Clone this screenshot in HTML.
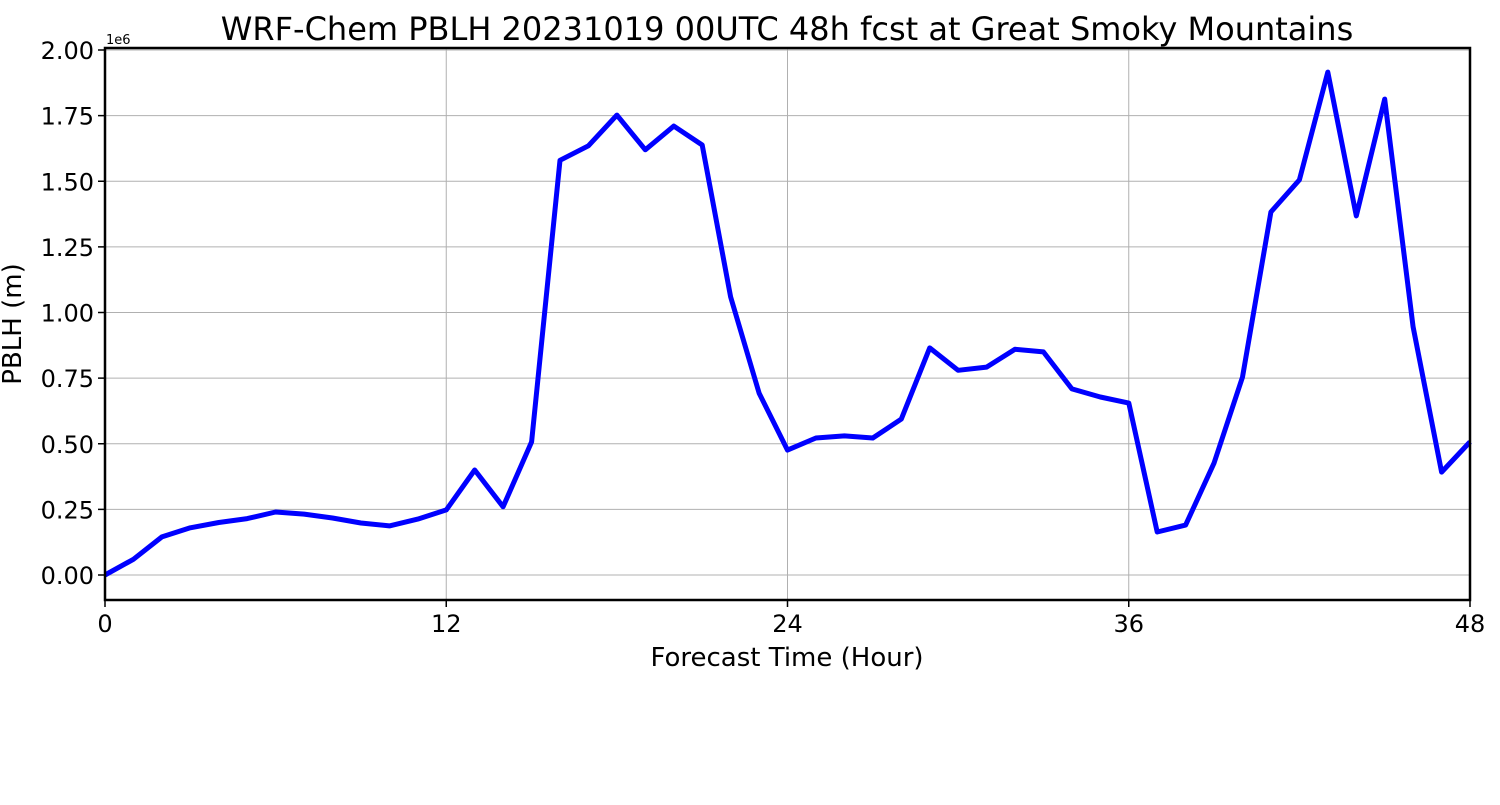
<!DOCTYPE html>
<html><head><meta charset="utf-8"><style>
body{margin:0;background:#fff;}
svg text{font-family:"DejaVu Sans","Liberation Sans",sans-serif;fill:#000;}
</style></head><body>
<svg id="chart" width="1500" height="800" xmlns="http://www.w3.org/2000/svg">
<rect width="1500" height="800" fill="#fff"/>
<text x="787" y="40" font-size="32" text-anchor="middle">WRF-Chem PBLH  20231019 00UTC 48h fcst at Great Smoky Mountains</text>
<g id="grid"></g>
<g id="ticks"></g>
<path id="line" fill="none" stroke="#0000ff" stroke-width="5" stroke-linejoin="round"/>
<rect x="105" y="48" width="1365" height="552" fill="none" stroke="#000" stroke-width="2.5"/>
<text x="106" y="44" font-size="13">1e6</text>
<text x="787" y="666" font-size="26" text-anchor="middle">Forecast Time (Hour)</text>
<text transform="translate(21,324) rotate(-90)" font-size="26" text-anchor="middle">PBLH  (m)</text>
</svg>
<script>
const hours = [0,1,2,3,4,5,6,7,8,9,10,11,12,13,14,15,16,17,18,19,20,21,22,23,24,25,26,27,28,29,30,31,32,33,34,35,36,37,38,39,40,41,42,43,44,45,46,47,48];
const pblh = [0,0.06,0.145,0.18,0.2,0.215,0.24,0.232,0.217,0.198,0.187,0.213,0.248,0.40,0.26,0.507,1.58,1.635,1.752,1.62,1.71,1.638,1.06,0.693,0.476,0.522,0.53,0.522,0.594,0.865,0.78,0.792,0.86,0.85,0.709,0.678,0.655,0.164,0.19,0.427,0.754,1.383,1.505,1.916,1.368,1.813,0.945,0.392,0.507];
const xTicks = [0,12,24,36,48];
const yTicks = [0,0.25,0.5,0.75,1.0,1.25,1.5,1.75,2.0];
const yTickLabels = ["0.00","0.25","0.50","0.75","1.00","1.25","1.50","1.75","2.00"];
const ns="http://www.w3.org/2000/svg";
const X = h => 105 + h*(1365/48);
const Y = v => 575 - v*262.5;
const grid=document.getElementById('grid'), ticks=document.getElementById('ticks');
function mk(tag,attrs,parent){const e=document.createElementNS(ns,tag);for(const k in attrs)e.setAttribute(k,attrs[k]);parent.appendChild(e);return e;}
xTicks.forEach(t=>{
  const g=mk('line',{x1:X(t),x2:X(t),y1:48,y2:600,stroke:'#b0b0b0','stroke-width':1},grid);
  
  
  const tk=mk('line',{x1:X(t),x2:X(t),y1:600,y2:607,stroke:'#000','stroke-width':1.5},ticks);
  
  
  const tx=mk('text',{x:X(t),y:632,'font-size':24,'text-anchor':'middle'},ticks);
  tx.textContent=t;
  
  
});
yTicks.forEach((t,i)=>{
  const g=mk('line',{x1:105,x2:1470,y1:Y(t),y2:Y(t),stroke:'#b0b0b0','stroke-width':1},grid);
  
  
  const tk=mk('line',{x1:98,x2:105,y1:Y(t),y2:Y(t),stroke:'#000','stroke-width':1.5},ticks);
  
  
  const tx=mk('text',{x:94,y:Y(t)+9,'font-size':24,'text-anchor':'end'},ticks);
  tx.textContent=yTickLabels[i];
  
  
});
document.getElementById('line').setAttribute('d',hours.map((h,i)=>(i?'L':'M')+X(h).toFixed(1)+','+Y(pblh[i]).toFixed(1)).join(''));
</script>
</body></html>
